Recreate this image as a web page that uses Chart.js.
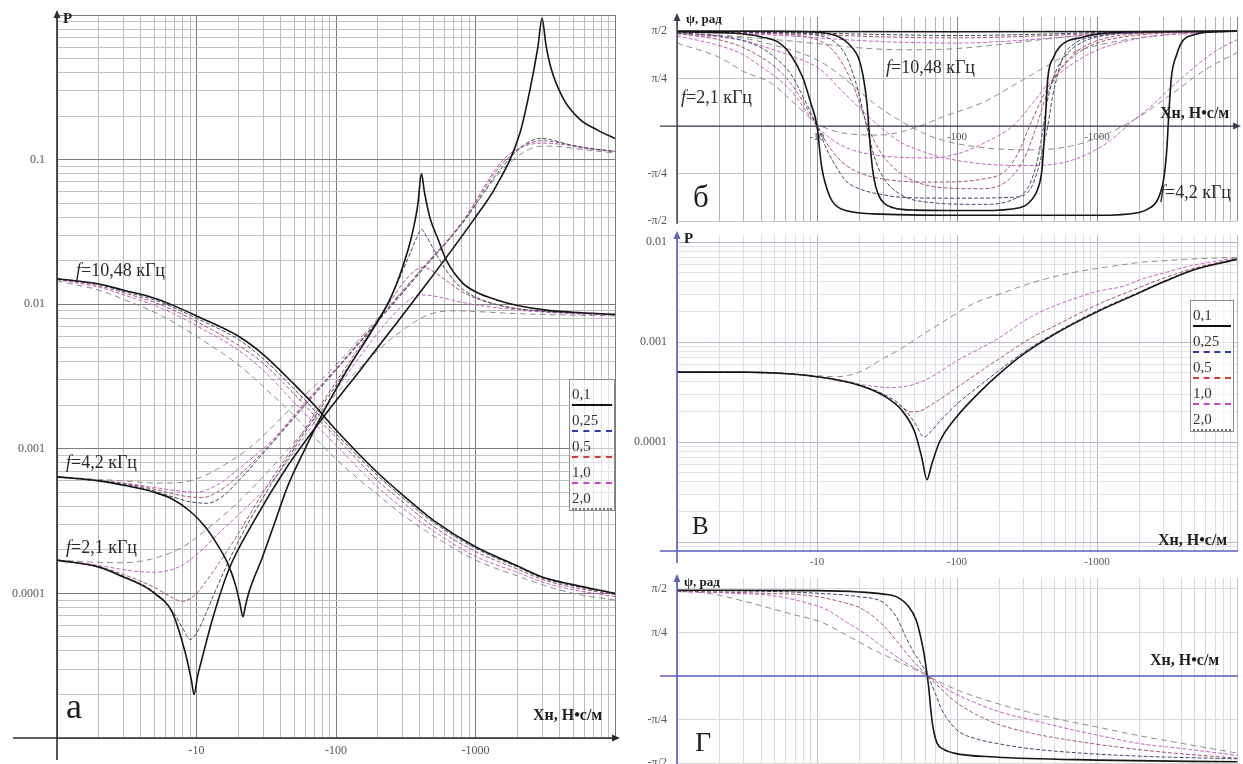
<!DOCTYPE html>
<html lang="ru">
<head>
<meta charset="utf-8">
<title>P и ψ в зависимости от Xн</title>
<script src="https://cdn.jsdelivr.net/npm/chart.js@4.4.1/dist/chart.umd.min.js"></script>
<style>
  html, body { margin: 0; padding: 0; background: #fff; }
  #wrap { position: relative; width: 1243px; height: 764px; overflow: hidden;
          font-family: "Liberation Serif", "DejaVu Serif", serif; color: #1e1e1e; }
  canvas { position: absolute; }
  .t { position: absolute; white-space: nowrap; line-height: 1; transform: translateY(-50%); }
  .ax { font-weight: bold; font-size: 16px; }
  .ya { font-weight: bold; font-size: 13px; }
  .ann { font-size: 18px; color: #2a2a2a; }
  .leg { position: absolute; border: 1px solid #8c8c8c; background: rgba(255,255,255,0.6); padding: 0 2px; }
  .leg div { height: 26px; box-sizing: border-box; padding-top: 6px; font-size: 15px; line-height: 16px; color: #333; }
</style>
</head>
<body>
<div id="wrap">
  <canvas id="cA" width="630" height="764" style="left:0;top:0"></canvas>
  <canvas id="cB" width="613" height="232" style="left:630px;top:0"></canvas>
  <canvas id="cC" width="613" height="346" style="left:630px;top:224px"></canvas>
  <canvas id="cD" width="613" height="194" style="left:630px;top:570px"></canvas>

  <!-- axis titles -->
  <div class="t ax" style="left:63px;top:18px;font-size:15px">P</div>
  <div class="t ax" style="left:533px;top:715px">Xн, Н•с/м</div>
  <div class="t ya" style="left:686px;top:18px">ψ, рад</div>
  <div class="t ax" style="left:1160px;top:113px">Xн, Н•с/м</div>
  <div class="t ax" style="left:684px;top:238px;font-size:15px">P</div>
  <div class="t ax" style="left:1158px;top:540px">Xн, Н•с/м</div>
  <div class="t ya" style="left:684px;top:581px">ψ, рад</div>
  <div class="t ax" style="left:1150px;top:660px">Xн, Н•с/м</div>

  <!-- panel letters -->
  <div class="t" style="left:66px;top:706px;font-size:36px">а</div>
  <div class="t" style="left:693px;top:196px;font-size:31px">б</div>
  <div class="t" style="left:692px;top:525px;font-size:25px">В</div>
  <div class="t" style="left:695px;top:742px;font-size:28px">Г</div>

  <!-- frequency annotations -->
  <div class="t ann" style="left:76px;top:270px"><i>f</i>=10,48 кГц</div>
  <div class="t ann" style="left:66px;top:462px"><i>f</i>=4,2 кГц</div>
  <div class="t ann" style="left:66px;top:547px"><i>f</i>=2,1 кГц</div>
  <div class="t ann" style="left:886px;top:67px"><i>f</i>=10,48 кГц</div>
  <div class="t ann" style="left:681px;top:97px"><i>f</i>=2,1 кГц</div>
  <div class="t ann" style="left:1160px;top:192px"><i>f</i>=4,2 кГц</div>

  <div class="leg" id="legA" style="left:569px;top:379px;width:40px"></div>
  <div class="leg" id="legV" style="left:1190px;top:300px;width:38px"></div>
</div>

<script>
// ---------- axis labels ----------
const xLabelValues = [10, 100, 1000];
const xLabelTexts = ['-10', '-100', '-1000'];
const pLabelValuesA = [0.1, 0.01, 0.001, 0.0001];
const pLabelTextsA = ['0.1', '0.01', '0.001', '0.0001'];
const pLabelValuesV = [0.01, 0.001, 0.0001];
const pLabelTextsV = ['0.01', '0.001', '0.0001'];
const psiLabelValues = [2, 1, -1, -2];          // phase in units of π/4
const psiLabelTexts = ['π/2', 'π/4', '-π/4', '-π/2'];
const dampNames = ['0,1', '0,25', '0,5', '1,0', '2,0'];
const legendLines = ['2px solid #111', '2px dashed #2c3ca8', '2px dashed #d83a3a', '2px dashed #c844c8', '2px dotted #777'];

// ---------- panel а: P(Xн), [Xн, P] ----------
const a10_d01 = [[1,0.015],[2,0.0138],[3,0.0125],[5,0.011],[7,0.0097],[10,0.0083],[20,0.006],[30,0.0045],[50,0.0028],[70,0.002],[100,0.00135],[200,0.00068],[300,0.00048],[500,0.00032],[1000,0.00021],[2000,0.000155],[3000,0.00013],[5000,0.000115],[10000,0.0001]];
const a10_d025 = [[1,0.015],[2,0.0137],[3,0.0123],[5,0.0107],[7,0.0094],[10,0.008],[20,0.0057],[30,0.0042],[50,0.0026],[70,0.00185],[100,0.00127],[200,0.00065],[300,0.00046],[500,0.00031],[1000,0.000205],[2000,0.000152],[3000,0.000128],[5000,0.000113],[10000,0.0001]];
const a10_d05 = [[1,0.0149],[2,0.0134],[3,0.012],[5,0.0103],[7,0.009],[10,0.0076],[20,0.0052],[30,0.0039],[50,0.0024],[70,0.0017],[100,0.0012],[200,0.0006],[300,0.00043],[500,0.00029],[1000,0.000195],[2000,0.000147],[3000,0.000125],[5000,0.00011],[10000,0.000098]];
const a10_d1 = [[1,0.0148],[2,0.0131],[3,0.0116],[5,0.0098],[7,0.0085],[10,0.0071],[20,0.0048],[30,0.0035],[50,0.0021],[70,0.0015],[100,0.00106],[200,0.00054],[300,0.00039],[500,0.00027],[1000,0.00018],[2000,0.00014],[3000,0.00012],[5000,0.000106],[10000,0.000095]];
const a10_d2 = [[1,0.0145],[2,0.0125],[3,0.0108],[5,0.0088],[7,0.0074],[10,0.006],[20,0.0038],[30,0.0027],[50,0.0017],[70,0.0012],[100,0.00085],[150,0.0006],[200,0.00048],[300,0.00035],[500,0.00025],[1000,0.00017],[2000,0.000132],[3000,0.000115],[5000,0.0001],[10000,0.00009]];

const a21_d01 = [[1,1.7e-4],[2,1.52e-4],[3,1.3e-4],[4,1.15e-4],[5,1.0e-4],[6.7,7.4e-5],[8.3,3.9e-5],[9.2,2.5e-5],[9.6,2.0e-5],[10.2,2.7e-5],[11,3.6e-5],[13,6.6e-5],[17,1.45e-4],[26,3.2e-4],[45,7.6e-4],[79,1.6e-3],[156,3.7e-3],[470,0.0148],[1000,0.04],[1400,0.065],[2080,0.152],[2450,0.3],[2800,0.6],[3000,0.95],[3200,0.62],[3500,0.42],[4300,0.26],[5600,0.19],[7500,0.16],[10000,0.14]];
const a21_d025 = [[1,1.7e-4],[2,1.52e-4],[3,1.31e-4],[5,1.02e-4],[6.7,7.6e-5],[8,5.7e-5],[9,4.8e-5],[10,5.3e-5],[11.5,7e-5],[14,1.1e-4],[20,2.3e-4],[30,4.6e-4],[50,1.0e-3],[80,2.0e-3],[150,5e-3],[250,0.0115],[330,0.021],[380,0.029],[410,0.033],[440,0.03],[500,0.024],[620,0.017],[800,0.0128],[1000,0.0112],[1500,0.0098],[2000,0.0093],[3200,0.0089],[5000,0.0087],[10000,0.0085]];
const a21_d05 = [[1,1.7e-4],[2,1.53e-4],[3,1.35e-4],[5,1.1e-4],[6.5,9.5e-5],[7.9,8.8e-5],[9,9.2e-5],[10.2,1.02e-4],[12,1.25e-4],[15,1.7e-4],[20,2.6e-4],[30,5e-4],[50,1.05e-3],[80,2.1e-3],[150,5.2e-3],[250,0.0108],[330,0.0155],[420,0.018],[500,0.0168],[620,0.0145],[800,0.0122],[1000,0.011],[1500,0.0098],[2000,0.0093],[3200,0.0089],[5000,0.0087],[10000,0.0085]];
const a21_d1 = [[1,1.7e-4],[2,1.56e-4],[3,1.46e-4],[4,1.41e-4],[5,1.4e-4],[6.5,1.45e-4],[8,1.58e-4],[10,1.85e-4],[15,2.7e-4],[20,3.5e-4],[35,6.0e-4],[50,9.5e-4],[80,1.85e-3],[150,4.4e-3],[250,8.2e-3],[330,0.0106],[400,0.0116],[500,0.0114],[700,0.0106],[1000,0.0099],[1500,0.0094],[2000,0.0091],[3200,0.0088],[5000,0.0086],[10000,0.0084]];
const a21_d2 = [[1,1.7e-4],[2,1.64e-4],[3,1.63e-4],[5,1.75e-4],[8,2.1e-4],[12,2.8e-4],[20,4.3e-4],[35,7.5e-4],[60,1.35e-3],[100,2.4e-3],[200,4.8e-3],[300,6.6e-3],[450,8.4e-3],[700,9.0e-3],[1000,8.9e-3],[2000,8.6e-3],[5000,8.4e-3],[10000,8.3e-3]];

const a42_d01 = [[1,6.4e-4],[2,6.0e-4],[3,5.6e-4],[5,5.0e-4],[6.7,4.5e-4],[9,3.7e-4],[11.5,2.9e-4],[14,2.2e-4],[16.8,1.6e-4],[19,1.15e-4],[20.5,8.5e-5],[21.5,6.9e-5],[22.5,8.3e-5],[24,1.05e-4],[29.5,1.75e-4],[36,3e-4],[45,5.5e-4],[60,1.0e-3],[80,1.75e-3],[120,3.5e-3],[180,6.5e-3],[243,0.0107],[300,0.018],[350,0.03],[385,0.048],[410,0.08],[430,0.06],[470,0.04],[540,0.028],[620,0.02],[810,0.014],[1000,0.0122],[1420,0.0107],[2000,0.0098],[3200,0.0091],[5000,0.0088],[10000,0.0085]];
const a42_d025 = [[1,6.4e-4],[3,5.7e-4],[5,5.1e-4],[7,4.6e-4],[9,4.3e-4],[12,4.2e-4],[15,4.6e-4],[20,6.0e-4],[35,1.1e-3],[60,2.0e-3],[100,3.5e-3],[200,7.6e-3],[400,0.0165],[800,0.036],[1500,0.085],[2200,0.125],[2900,0.14],[3500,0.137],[4500,0.128],[6000,0.121],[10000,0.114]];
const a42_d05 = [[1,6.4e-4],[3,5.75e-4],[5,5.25e-4],[7,4.85e-4],[9,4.65e-4],[11,4.6e-4],[14,5.0e-4],[20,6.5e-4],[35,1.12e-3],[60,2.05e-3],[100,3.55e-3],[200,7.7e-3],[400,0.0168],[800,0.0365],[1500,0.09],[2200,0.124],[3000,0.135],[4000,0.131],[6000,0.121],[10000,0.114]];
const a42_d1 = [[1,6.4e-4],[3,5.8e-4],[5,5.4e-4],[7,5.15e-4],[9.7,5.0e-4],[14,5.6e-4],[19.8,7.2e-4],[35,1.15e-3],[60,2.1e-3],[100,3.6e-3],[200,7.8e-3],[400,0.017],[800,0.037],[1580,0.1],[2200,0.123],[3000,0.13],[4000,0.128],[6000,0.12],[10000,0.113]];
const a42_d2 = [[1,6.4e-4],[3,6.0e-4],[5,5.8e-4],[7,5.8e-4],[10,6.2e-4],[15,7.5e-4],[25,1.05e-3],[50,2.0e-3],[100,3.8e-3],[200,8e-3],[400,0.017],[800,0.036],[1500,0.082],[2200,0.112],[3000,0.124],[4000,0.123],[6000,0.117],[10000,0.111]];

// ---------- panel б: ψ(Xн), [Xн, ψ in π/4] ----------
const b10_d01 = [[1,2.0],[100,1.99],[10000,2.0]];
const b10_d025 = [[1,1.99],[10,1.96],[30,1.93],[100,1.91],[300,1.93],[1000,1.97],[3000,1.99],[10000,2.0]];
const b10_d05 = [[1,1.99],[10,1.93],[30,1.88],[100,1.86],[300,1.89],[1000,1.95],[3000,1.99],[10000,2.0]];
const b10_d1 = [[1,1.98],[5,1.92],[10,1.86],[30,1.78],[100,1.75],[200,1.78],[500,1.86],[1000,1.93],[3000,1.98],[10000,2.0]];
const b10_d2 = [[1,1.96],[3,1.88],[10,1.74],[20,1.65],[40,1.61],[80,1.62],[150,1.68],[300,1.78],[600,1.88],[1000,1.93],[3000,1.98],[10000,2.0]];

const b21_d01 = [[1,1.99],[2,1.97],[3,1.94],[4,1.88],[5.4,1.75],[6.5,1.5],[7.9,1.03],[9,0.5],[10,0],[10.8,-0.86],[12.4,-1.5],[14,-1.7],[16,-1.78],[25,-1.85],[100,-1.88],[1000,-1.88],[2000,-1.82],[2400,-1.72],[2700,-1.56],[3000,-1.1],[3150,-0.5],[3250,0.2],[3400,1.03],[3700,1.5],[4100,1.8],[5000,1.93],[5700,1.97],[10000,2.0]];
const b21_d025 = [[1,1.97],[2,1.9],[3,1.8],[4,1.65],[5,1.45],[6.5,1.1],[8,0.6],[10,0],[12,-0.55],[14,-0.9],[16,-1.15],[20,-1.32],[30,-1.45],[40,-1.5],[100,-1.52],[250,-1.5],[330,-1.35],[380,-0.9],[420,-0.35],[445,0],[480,0.6],[520,1.05],[570,1.45],[700,1.75],[1000,1.9],[2000,1.97],[10000,2.0]];
const b21_d05 = [[1,1.95],[2,1.82],[3,1.65],[4,1.45],[5,1.25],[6.5,0.9],[8,0.5],[10,0],[12,-0.4],[15,-0.75],[20,-0.98],[30,-1.12],[67,-1.18],[150,-1.12],[220,-0.95],[270,-0.6],[330,0],[400,0.55],[500,1.05],[700,1.5],[1000,1.75],[2000,1.92],[5000,1.98],[10000,2.0]];
const b21_d1 = [[1,1.9],[2,1.7],[3,1.5],[4,1.25],[5,1.05],[6.5,0.75],[8,0.4],[10,0],[13,-0.3],[17,-0.48],[25,-0.6],[40,-0.66],[67,-0.67],[110,-0.55],[170,-0.3],[250,0],[350,0.5],[450,0.9],[700,1.35],[1000,1.6],[2000,1.85],[5000,1.96],[10000,2.0]];
const b21_d2 = [[1,1.75],[2,1.45],[3,1.15],[4.75,0.9],[6.5,0.55],[8,0.3],[10,0.05],[14,-0.12],[20,-0.18],[28,-0.19],[40,-0.12],[54,0],[80,0.2],[153,0.5],[250,0.85],[400,1.2],[610,1.5],[1000,1.7],[2100,1.87],[5000,1.97],[10000,2.0]];

const b42_d01 = [[1,2.0],[5,2.0],[10,1.98],[13.9,1.9],[17,1.72],[20,1.4],[21.5,1.0],[22.7,0.5],[23.4,0],[24.3,-0.6],[25.5,-1.1],[27.5,-1.45],[30,-1.62],[35,-1.72],[50,-1.77],[150,-1.78],[280,-1.72],[330,-1.6],[380,-1.3],[405,-0.9],[425,0],[445,1.0],[490,1.45],[545,1.68],[800,1.88],[1050,1.95],[2000,1.99],[10000,2.0]];
const b42_d025 = [[1,2.0],[5,1.98],[10,1.92],[13,1.8],[16,1.5],[19,0.9],[21,0.4],[23,-0.1],[26,-0.7],[30,-1.1],[40,-1.45],[60,-1.6],[150,-1.65],[250,-1.55],[320,-1.3],[370,-0.8],[410,-0.1],[440,0.5],[500,1.1],[600,1.5],[800,1.78],[1200,1.92],[3000,1.98],[10000,2.0]];
const b42_d05 = [[1,1.99],[5,1.95],[10,1.82],[13,1.6],[16,1.2],[19,0.7],[22,0.15],[26,-0.35],[32,-0.75],[45,-1.1],[80,-1.3],[150,-1.32],[230,-1.15],[300,-0.7],[370,0],[430,0.6],[520,1.1],[700,1.55],[1000,1.8],[2000,1.95],[10000,2.0]];
const b42_d1 = [[1,1.95],[3,1.8],[5,1.6],[7,1.45],[10.5,1.2],[15,0.75],[22.7,0.23],[30,-0.08],[39,-0.33],[55,-0.52],[76,-0.65],[120,-0.76],[203,-0.82],[350,-0.83],[610,-0.75],[1050,-0.45],[1400,-0.18],[1700,0.05],[2400,0.4],[3200,0.75],[4100,1.03],[5500,1.35],[7200,1.6],[10000,1.82]];
const b42_d2 = [[1,1.96],[3,1.85],[5,1.7],[10,1.4],[15,1.05],[25,0.5],[40,0.1],[70,-0.25],[150,-0.45],[350,-0.5],[700,-0.4],[1200,-0.15],[2000,0.2],[3500,0.7],[6000,1.2],[10000,1.55]];

// ---------- panel В: P(Xн), [Xн, P] ----------
const v_d01 = [[1,5.0e-4],[3,5.0e-4],[5,4.9e-4],[10,4.5e-4],[15,4.1e-4],[20,3.7e-4],[30,2.9e-4],[40,2.1e-4],[50,1.25e-4],[56,7e-5],[61,4.2e-5],[66,6e-5],[75,1.0e-4],[100,1.8e-4],[150,3.3e-4],[200,4.8e-4],[300,7.6e-4],[500,1.2e-3],[1000,2.0e-3],[2000,3.1e-3],[3000,4.0e-3],[5000,5.3e-3],[10000,6.7e-3]];
const v_d025 = [[1,5.0e-4],[5,4.9e-4],[10,4.5e-4],[20,3.7e-4],[30,3.0e-4],[40,2.3e-4],[50,1.55e-4],[58,1.12e-4],[66,1.3e-4],[75,1.6e-4],[100,2.4e-4],[150,3.8e-4],[200,5.2e-4],[300,7.9e-4],[500,1.23e-3],[1000,2.05e-3],[2000,3.15e-3],[3000,4.05e-3],[5000,5.35e-3],[10000,6.7e-3]];
const v_d05 = [[1,5.0e-4],[5,4.9e-4],[10,4.5e-4],[20,3.75e-4],[30,2.9e-4],[40,2.25e-4],[47,2.0e-4],[55,2.05e-4],[70,2.5e-4],[100,3.5e-4],[150,5.2e-4],[200,6.8e-4],[340,1.1e-3],[500,1.45e-3],[1000,2.35e-3],[2000,3.5e-3],[3000,4.35e-3],[5000,5.5e-3],[10000,6.8e-3]];
const v_d1 = [[1,5.0e-4],[5,4.9e-4],[10,4.5e-4],[15,4.05e-4],[22,3.7e-4],[33,3.5e-4],[45,3.65e-4],[60,4.2e-4],[100,6.5e-4],[200,1.1e-3],[340,1.8e-3],[500,2.3e-3],[1000,3.2e-3],[1530,3.6e-3],[2140,4.3e-3],[3000,4.9e-3],[5000,5.9e-3],[10000,6.9e-3]];
const v_d2 = [[1,5.0e-4],[5,4.9e-4],[10,4.6e-4],[14,4.5e-4],[20,5.0e-4],[30,6.9e-4],[40,8.6e-4],[55,1.15e-3],[80,1.6e-3],[137,2.5e-3],[200,3.0e-3],[340,3.9e-3],[700,5.0e-3],[1500,5.9e-3],[2100,6.3e-3],[3000,6.5e-3],[5000,6.8e-3],[10000,7.0e-3]];

// ---------- panel Г: ψ(Xн), [Xн, ψ in π/4] ----------
const g_d01 = [[1,1.97],[10,1.96],[20,1.93],[30,1.88],[38,1.8],[45,1.6],[51,1.29],[55,0.9],[58,0.53],[61,0.05],[63,-0.3],[65,-0.78],[68,-1.25],[72,-1.54],[80,-1.68],[95,-1.77],[187,-1.86],[1000,-1.93],[10000,-1.97]];
const g_d025 = [[1,1.96],[5,1.94],[10,1.9],[20,1.82],[30,1.68],[37,1.35],[43,0.9],[50,0.5],[55,0.3],[62,0],[70,-0.4],[78,-0.78],[100,-1.24],[140,-1.45],[187,-1.54],[300,-1.65],[630,-1.75],[2000,-1.84],[7300,-1.89],[10000,-1.9]];
const g_d05 = [[1,1.95],[4,1.9],[8.7,1.85],[15,1.7],[21.6,1.52],[30,1.15],[38,0.76],[50,0.3],[62,0],[80,-0.35],[100,-0.62],[187,-1.08],[350,-1.32],[630,-1.47],[2130,-1.7],[10000,-1.89]];
const g_d1 = [[1,1.94],[2.5,1.9],[4.7,1.85],[8,1.7],[11.8,1.52],[16,1.25],[21.6,0.99],[30,0.65],[40,0.37],[62,0],[90,-0.35],[137,-0.62],[200,-0.82],[343,-1.01],[600,-1.2],[1160,-1.4],[2000,-1.55],[3930,-1.66],[10000,-1.82]];
const g_d2 = [[1,1.94],[1.66,1.9],[3,1.72],[4.7,1.55],[7,1.4],[10.5,1.25],[16,0.95],[23,0.67],[40,0.3],[62,0],[100,-0.32],[180,-0.6],[343,-0.85],[600,-1.03],[1000,-1.17],[2000,-1.37],[3930,-1.54],[10000,-1.77]];

// ---------- styling ----------
const SERIF = '"Liberation Serif", "DejaVu Serif", serif';
const lineStyles = [
  { color: '#161616', width: 1.6, dash: [] },
  { color: '#46486a', width: 1,   dash: [4, 2] },
  { color: '#a8566c', width: 1,   dash: [4, 2] },
  { color: '#c862c8', width: 1,   dash: [4, 2] },
  { color: '#8c8c8c', width: 1,   dash: [6, 4] }
];

const isDecade = v => Math.abs(Math.log10(v) - Math.round(Math.log10(v))) < 1e-9;

function logGrid(e0, e1, lo, hi) {
  const out = [];
  for (let e = e0; e <= e1; e++) {
    for (let m = 1; m <= 9; m++) {
      const v = Number((m * Math.pow(10, e)).toPrecision(3));
      if (v >= lo * 0.999 && v <= hi * 1.001) out.push(v);
    }
  }
  return out;
}

function labeler(values, texts) {
  return v => {
    const i = values.findIndex(t => Math.abs(t - v) <= Math.abs(t) * 1e-6);
    return i < 0 ? '' : texts[i];
  };
}

function dataset(points, k) {
  const s = lineStyles[k];
  return {
    data: points.map(p => ({ x: p[0], y: p[1] })),
    borderColor: s.color, borderWidth: s.width, borderDash: s.dash,
    pointRadius: 0, fill: false, cubicInterpolationMode: 'monotone'
  };
}

// groups of five curves (damping 0,1 … 2,0); first listed is drawn on top
function datasetsFrom(groups) {
  const out = [];
  for (let k = 0; k < 5; k++) groups.forEach(g => out.push(dataset(g[k], k)));
  return out;
}

// axis lines with arrowheads, extended past the plot area
const axisDecor = {
  id: 'axisDecor',
  afterDraw(chart, args, o) {
    const { ctx, chartArea: a, scales } = chart;
    const y0 = o.zeroLine ? scales.y.getPixelForValue(0) : a.bottom;
    ctx.save();
    ctx.strokeStyle = o.color; ctx.fillStyle = o.color; ctx.lineWidth = o.width;
    ctx.beginPath();
    ctx.moveTo(a.left - o.extLeft, y0); ctx.lineTo(a.right + o.extRight, y0);
    ctx.moveTo(a.left, a.top - o.extTop); ctx.lineTo(a.left, a.bottom + o.extBottom);
    ctx.stroke();
    if (o.arrowX) {
      const x = a.right + o.extRight + 3;
      ctx.beginPath(); ctx.moveTo(x, y0); ctx.lineTo(x - 8, y0 - 3.5); ctx.lineTo(x - 8, y0 + 3.5); ctx.closePath(); ctx.fill();
    }
    if (o.arrowY) {
      const y = a.top - o.extTop - 3;
      ctx.beginPath(); ctx.moveTo(a.left, y); ctx.lineTo(a.left - 3.5, y + 8); ctx.lineTo(a.left + 3.5, y + 8); ctx.closePath(); ctx.fill();
    }
    ctx.restore();
  }
};

function xAxis({ height, show, zero, major, minor, pad, size }) {
  const grid = logGrid(0, 4, 1, 10000);
  return {
    type: 'logarithmic', min: 1, max: 10000,
    position: zero ? { y: 0 } : 'bottom',
    afterBuildTicks: s => { s.ticks = grid.map(v => ({ value: v })); },
    afterFit: s => { s.height = height; s.paddingLeft = 0; s.paddingRight = 0; },
    ticks: { display: show, autoSkip: false, maxRotation: 0, padding: pad,
             font: { family: SERIF, size: size }, color: '#555',
             callback: labeler(xLabelValues, xLabelTexts) },
    grid: { drawTicks: false, lineWidth: 1,
            color: c => (c.tick && isDecade(c.tick.value)) ? major : minor },
    border: { display: false }
  };
}

function yLogAxis({ min, max, e0, e1, values, texts, major, minor, width, pad }) {
  const grid = logGrid(e0, e1, min, max);
  return {
    type: 'logarithmic', min, max, position: 'left',
    afterBuildTicks: s => { s.ticks = grid.map(v => ({ value: v })); },
    afterFit: s => { s.width = width; s.paddingTop = 0; s.paddingBottom = 0; },
    ticks: { autoSkip: false, padding: pad, font: { family: SERIF, size: 12 }, color: '#555',
             callback: labeler(values, texts) },
    grid: { drawTicks: false, lineWidth: 1,
            color: c => (c.tick && isDecade(c.tick.value)) ? major : minor },
    border: { display: false }
  };
}

function yPsiAxis({ min, max, color, width }) {
  return {
    type: 'linear', min, max, position: 'left',
    afterBuildTicks: s => { s.ticks = [-2, -1, 0, 1, 2].map(v => ({ value: v })); },
    afterFit: s => { s.width = width; s.paddingTop = 0; s.paddingBottom = 0; },
    ticks: { autoSkip: false, padding: 10, font: { family: SERIF, size: 12 }, color: '#555',
             callback: labeler(psiLabelValues, psiLabelTexts) },
    grid: { drawTicks: false, lineWidth: 1, color },
    border: { display: false }
  };
}

function makeChart(id, datasets, padding, scales, decor) {
  return new Chart(document.getElementById(id), {
    type: 'line',
    data: { datasets },
    options: {
      responsive: false, animation: false, devicePixelRatio: 1,
      layout: { padding },
      plugins: { legend: { display: false }, tooltip: { enabled: false }, axisDecor: decor },
      scales
    },
    plugins: [axisDecor]
  });
}

// panel а
makeChart('cA',
  datasetsFrom([
    [a10_d01, a10_d025, a10_d05, a10_d1, a10_d2],
    [a21_d01, a21_d025, a21_d05, a21_d1, a21_d2],
    [a42_d01, a42_d025, a42_d05, a42_d1, a42_d2]
  ]),
  { left: 0, right: 15, top: 15, bottom: 0 },
  {
    x: xAxis({ height: 26, show: true, zero: false, major: '#7c7c7c', minor: '#bdbdbd', pad: 6, size: 12 }),
    y: yLogAxis({ min: 1e-5, max: 1, e0: -5, e1: 0, values: pLabelValuesA, texts: pLabelTextsA,
                  major: '#7c7c7c', minor: '#c2c2c2', width: 57, pad: 12 })
  },
  { color: '#2c2c2c', width: 1.6, zeroLine: false, extLeft: 44, extRight: 2, extTop: 2, extBottom: 22, arrowX: true, arrowY: true }
);

// panel б
makeChart('cB',
  datasetsFrom([
    [b10_d01, b10_d025, b10_d05, b10_d1, b10_d2],
    [b21_d01, b21_d025, b21_d05, b21_d1, b21_d2],
    [b42_d01, b42_d025, b42_d05, b42_d1, b42_d2]
  ]),
  { left: 0, right: 6, top: 17, bottom: 11 },
  {
    x: xAxis({ height: 0, show: true, zero: true, major: '#868686', minor: '#b4b4b4', pad: 4, size: 11 }),
    y: yPsiAxis({ min: -2, max: 2.3, color: '#c4c4c4', width: 47 })
  },
  { color: '#3c3c50', width: 1.4, zeroLine: true, extLeft: 17, extRight: 1, extTop: 1, extBottom: 3, arrowX: true, arrowY: true }
);

// panel В
makeChart('cC',
  datasetsFrom([[v_d01, v_d025, v_d05, v_d1, v_d2]]),
  { left: 0, right: 6, top: 11, bottom: 0 },
  {
    x: xAxis({ height: 19, show: true, zero: false, major: '#b8b8c8', minor: '#dcdce6', pad: 5, size: 11 }),
    y: yLogAxis({ min: 8.13e-6, max: 0.01175, e0: -6, e1: -2, values: pLabelValuesV, texts: pLabelTextsV,
                  major: '#b8b8c8', minor: '#e2e2ea', width: 47, pad: 10 })
  },
  { color: '#5e5ec4', width: 1.6, zeroLine: false, extLeft: 17, extRight: 1, extTop: 1, extBottom: 12, arrowX: false, arrowY: true }
);

// panel Г
makeChart('cD',
  datasetsFrom([[g_d01, g_d025, g_d05, g_d1, g_d2]]),
  { left: 0, right: 6, top: 8, bottom: 0 },
  {
    x: xAxis({ height: 0, show: false, zero: true, major: '#c4c4cc', minor: '#dadae2', pad: 4, size: 11 }),
    y: yPsiAxis({ min: -2.02, max: 2.25, color: '#d8d8e0', width: 47 })
  },
  { color: '#5e5ec4', width: 1.6, zeroLine: true, extLeft: 17, extRight: 1, extTop: 1, extBottom: 0, arrowX: false, arrowY: true }
);

// legends
['legA', 'legV'].forEach(id => {
  const box = document.getElementById(id);
  dampNames.forEach((name, i) => {
    const row = document.createElement('div');
    row.textContent = name;
    row.style.borderBottom = legendLines[i];
    box.appendChild(row);
  });
});
</script>
</body>
</html>
